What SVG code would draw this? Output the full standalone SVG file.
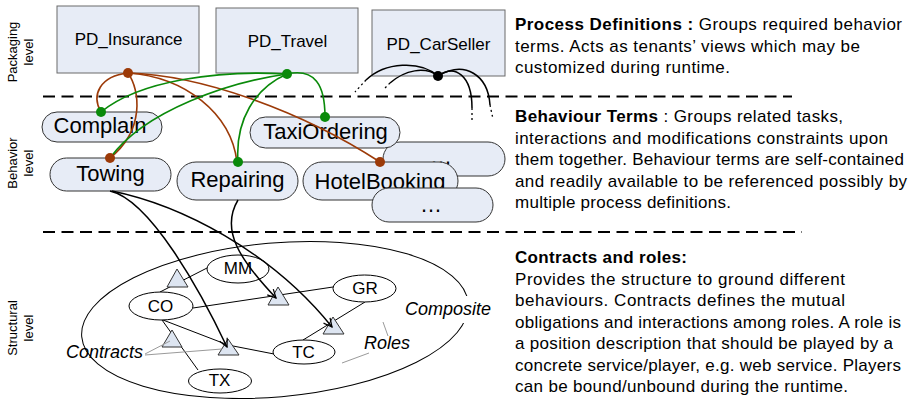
<svg xmlns="http://www.w3.org/2000/svg" width="923" height="399" viewBox="0 0 923 399">
  <defs>
    <style>
      text { font-family: "Liberation Sans", Arial, sans-serif; fill: #000; }
      .lvl { font-size: 13px; text-anchor: middle; }
      .pd rect { fill: #E7ECF6; stroke: #6a6a6a; stroke-width: 1; }
      .pd text { font-size: 17px; text-anchor: middle; }
      .bt rect { fill: #E7ECF6; stroke: #333; stroke-width: 1; }
      .bt text { font-size: 22px; text-anchor: middle; }
      .role ellipse { fill: #fff; stroke: #000; stroke-width: 1; }
      .role text { font-size: 17px; text-anchor: middle; }
      .contract { fill: #DDE5F1; stroke: #333; stroke-width: 1; }
      .sep { stroke: #000; stroke-width: 1.8; stroke-dasharray: 12 6.5; fill: none; }
      .brown { stroke: #9C3A08; stroke-width: 1.6; fill: none; }
      .green { stroke: #0A8A0A; stroke-width: 1.6; fill: none; }
      .blk { stroke: #000; stroke-width: 1.5; fill: none; }
      .dot-tail { stroke: #000; stroke-width: 1.3; fill: none; stroke-dasharray: 2 3; }
      .thin { stroke: #000; stroke-width: 1; fill: none; }
      .grey { stroke: #9a9a9a; stroke-width: 1; fill: none; }
      .lab { font-size: 18px; font-style: italic; }
      .desc { font-size: 17px; }
      .desc .b { font-weight: bold; }
    </style>
    <marker id="open-arrow" viewBox="0 0 12 12" refX="11" refY="6" markerWidth="10" markerHeight="10" markerUnits="userSpaceOnUse" orient="auto">
      <path d="M1,1 L11,6 L1,11" fill="none" stroke="#000" stroke-width="1.5"/>
    </marker>
  </defs>

  <rect width="923" height="399" fill="#fff"/>

  <!-- level labels -->
  <g id="level-labels">
    <text class="lvl" transform="translate(17,52) rotate(-90)">Packaging</text>
    <text class="lvl" transform="translate(33,52) rotate(-90)">level</text>
    <text class="lvl" transform="translate(17,163) rotate(-90)">Behavior</text>
    <text class="lvl" transform="translate(33,163) rotate(-90)">level</text>
    <text class="lvl" transform="translate(17,328) rotate(-90)">Structural</text>
    <text class="lvl" transform="translate(33,328) rotate(-90)">level</text>
  </g>

  <!-- level separators -->
  <g id="separators">
    <line class="sep" x1="43" y1="96.5" x2="792" y2="96.5"/>
    <line class="sep" x1="43" y1="232" x2="802" y2="232"/>
  </g>

  <!-- packaging level: process definitions -->
  <g id="pd-insurance" class="pd">
    <rect x="57" y="6" width="142" height="67"/>
    <text x="128.5" y="45">PD_Insurance</text>
  </g>
  <g id="pd-travel" class="pd">
    <rect x="216" y="8" width="142" height="65"/>
    <text x="287.5" y="47">PD_Travel</text>
  </g>
  <g id="pd-carseller" class="pd">
    <rect x="372" y="10" width="133" height="66"/>
    <text x="438.5" y="50">PD_CarSeller</text>
  </g>

  <!-- behaviour level: behaviour terms -->
  <g id="bt-more-upper" class="bt">
    <rect x="383" y="142" width="122" height="34" rx="17"/>
    <text x="441" y="164">…</text>
  </g>
  <g id="bt-complain" class="bt">
    <rect x="42" y="112" width="120" height="30" rx="15"/>
    <text x="100" y="133">Complain</text>
  </g>
  <g id="bt-taxiordering" class="bt">
    <rect x="250" y="117" width="150" height="31" rx="15.5"/>
    <text x="325.5" y="139">TaxiOrdering</text>
  </g>
  <g id="bt-towing" class="bt">
    <rect x="50" y="158" width="121" height="33" rx="16.5"/>
    <text x="110.5" y="181">Towing</text>
  </g>
  <g id="bt-repairing" class="bt">
    <rect x="177" y="162" width="121" height="38" rx="19"/>
    <text x="237.5" y="187">Repairing</text>
  </g>
  <g id="bt-hotelbooking" class="bt">
    <rect x="303" y="162" width="155" height="38" rx="19"/>
    <text x="380" y="189">HotelBooking</text>
  </g>
  <g id="bt-more-lower" class="bt">
    <rect x="372" y="188" width="121" height="34" rx="17"/>
    <text x="431" y="212">…</text>
  </g>

  <!-- structural level: composite, roles and contracts -->
  <g id="composite">
    <ellipse cx="275" cy="320" rx="194" ry="77" transform="rotate(-5 275 320)" fill="none" stroke="#000" stroke-width="1"/>
    <rect x="402" y="296" width="92" height="27" fill="#fff"/>
    <text class="lab" x="405" y="315">Composite</text>
  </g>

  <g id="role-links">
    <line class="thin" x1="207" y1="268" x2="160" y2="292"/>
    <line class="thin" x1="193" y1="308" x2="333" y2="287"/>
    <polyline class="thin" points="163,320 228,345 274,354"/>
    <line class="thin" x1="365" y1="302" x2="303" y2="340"/>
    <line class="thin" x1="162" y1="320" x2="198" y2="370"/>
  </g>

  <g id="contract-mm-co"><polygon class="contract" points="177,269 167,287 188,287"/></g>
  <g id="contract-co-gr"><polygon class="contract" points="278,287 268,305 289,305"/></g>
  <g id="contract-co-tc"><polygon class="contract" points="228,339 218,355 239,355"/></g>
  <g id="contract-gr-tc"><polygon class="contract" points="333,317 323,334 344,334"/></g>
  <g id="contract-co-tx"><polygon class="contract" points="172,330 162,347 182,347"/></g>

  <g id="role-mm" class="role">
    <ellipse cx="238" cy="269" rx="31" ry="14"/>
    <text x="238" y="274">MM</text>
  </g>
  <g id="role-gr" class="role">
    <ellipse cx="364.5" cy="288.5" rx="31.5" ry="13.5"/>
    <text x="365" y="294">GR</text>
  </g>
  <g id="role-co" class="role">
    <ellipse cx="161" cy="306" rx="32" ry="14"/>
    <text x="160.5" y="312">CO</text>
  </g>
  <g id="role-tc" class="role">
    <ellipse cx="304" cy="352" rx="31" ry="12"/>
    <text x="303.5" y="358">TC</text>
  </g>
  <g id="role-tx" class="role">
    <ellipse cx="220" cy="381" rx="31.5" ry="12"/>
    <text x="219.5" y="386">TX</text>
  </g>

  <g id="annotations">
    <text class="lab" x="66" y="358">Contracts</text>
    <line class="grey" x1="145" y1="354" x2="170" y2="341"/>
    <line class="grey" x1="145" y1="355" x2="222" y2="349"/>
    <text class="lab" x="364" y="349">Roles</text>
    <line class="grey" x1="383" y1="322" x2="388" y2="336"/>
    <line class="grey" x1="342" y1="363" x2="369" y2="353"/>
  </g>

  <!-- connectors -->
  <g id="connectors">
    <!-- PD_Insurance references -->
    <path class="brown" d="M128,73 C100,76 91,95 101,112"/>
    <path class="brown" d="M128,73 C140,90 145,130 110,158"/>
    <path class="brown" d="M128,73 C185,77 231,113 237,162"/>
    <path class="brown" d="M128,73 C200,75 300,110 380,162"/>
    <!-- PD_Travel references -->
    <path class="green" d="M287,74 C220,70 140,80 101,112"/>
    <path class="green" d="M287,74 C230,82 145,110 110,158"/>
    <path class="green" d="M287,74 C255,88 235,120 238,162"/>
    <path class="green" d="M287,74 C315,68 325,85 325,117"/>
    <!-- PD_CarSeller references (continuing out of view) -->
    <path class="blk" d="M438,76 C420,60 385,62 366,80"/>
    <path class="dot-tail" d="M366,80 L355,92"/>
    <path class="blk" d="M438,76 C425,66 405,70 390,83"/>
    <path class="dot-tail" d="M390,83 L384,89"/>
    <path class="blk" d="M438,76 C455,64 472,75 472,108"/>
    <path class="dot-tail" d="M472,108 L472,121"/>
    <path class="blk" d="M438,76 C465,60 488,75 490,105"/>
    <path class="dot-tail" d="M490,105 L493,119"/>
    <!-- behaviour terms grounded on contracts -->
    <path class="blk" d="M110,191 C150,200 200,290 227,347" marker-end="url(#open-arrow)"/>
    <path class="blk" d="M112,191 C180,205 270,250 332,327" marker-end="url(#open-arrow)"/>
    <path class="blk" d="M238,200 C220,230 240,260 276,298" marker-end="url(#open-arrow)"/>

    <!-- endpoints -->
    <circle cx="128" cy="73" r="5" fill="#9C3A08"/>
    <circle cx="110" cy="158" r="5" fill="#9C3A08"/>
    <circle cx="380" cy="162" r="5" fill="#9C3A08"/>
    <circle cx="287" cy="74" r="5" fill="#0A8A0A"/>
    <circle cx="101" cy="112" r="5" fill="#0A8A0A"/>
    <circle cx="238" cy="162" r="5" fill="#0A8A0A"/>
    <circle cx="325" cy="117" r="5" fill="#0A8A0A"/>
    <circle cx="438" cy="76" r="5" fill="#000"/>
  </g>

  <!-- descriptions -->
  <g id="descriptions" class="desc">
    <text x="515" y="30" textLength="387" lengthAdjust="spacing"><tspan class="b">Process Definitions :</tspan> Groups required behavior</text>
    <text x="515" y="51.5" textLength="345" lengthAdjust="spacing">terms. Acts as tenants’ views which may be</text>
    <text x="515" y="73" textLength="215" lengthAdjust="spacing">customized during runtime.</text>

    <text x="515" y="122" textLength="328" lengthAdjust="spacing"><tspan class="b">Behaviour Terms</tspan> : Groups related tasks,</text>
    <text x="515" y="143.5" textLength="373" lengthAdjust="spacing">interactions and modifications constraints upon</text>
    <text x="515" y="165" textLength="389" lengthAdjust="spacing">them together. Behaviour terms are self-contained</text>
    <text x="515" y="186.5" textLength="392" lengthAdjust="spacing">and readily available to be referenced possibly by</text>
    <text x="515" y="208" textLength="216" lengthAdjust="spacing">multiple process definitions.</text>

    <text x="515" y="263" textLength="172" lengthAdjust="spacing"><tspan class="b">Contracts and roles:</tspan></text>
    <text x="515" y="284.5" textLength="330" lengthAdjust="spacing">Provides the structure to ground different</text>
    <text x="515" y="306" textLength="330" lengthAdjust="spacing">behaviours. Contracts defines the mutual</text>
    <text x="515" y="327.5" textLength="386" lengthAdjust="spacing">obligations and interactions among roles. A role is</text>
    <text x="515" y="349" textLength="378" lengthAdjust="spacing">a position description that should be played by a</text>
    <text x="515" y="370.5" textLength="386" lengthAdjust="spacing">concrete service/player, e.g. web service. Players</text>
    <text x="515" y="392" textLength="333" lengthAdjust="spacing">can be bound/unbound during the runtime.</text>
  </g>
</svg>
